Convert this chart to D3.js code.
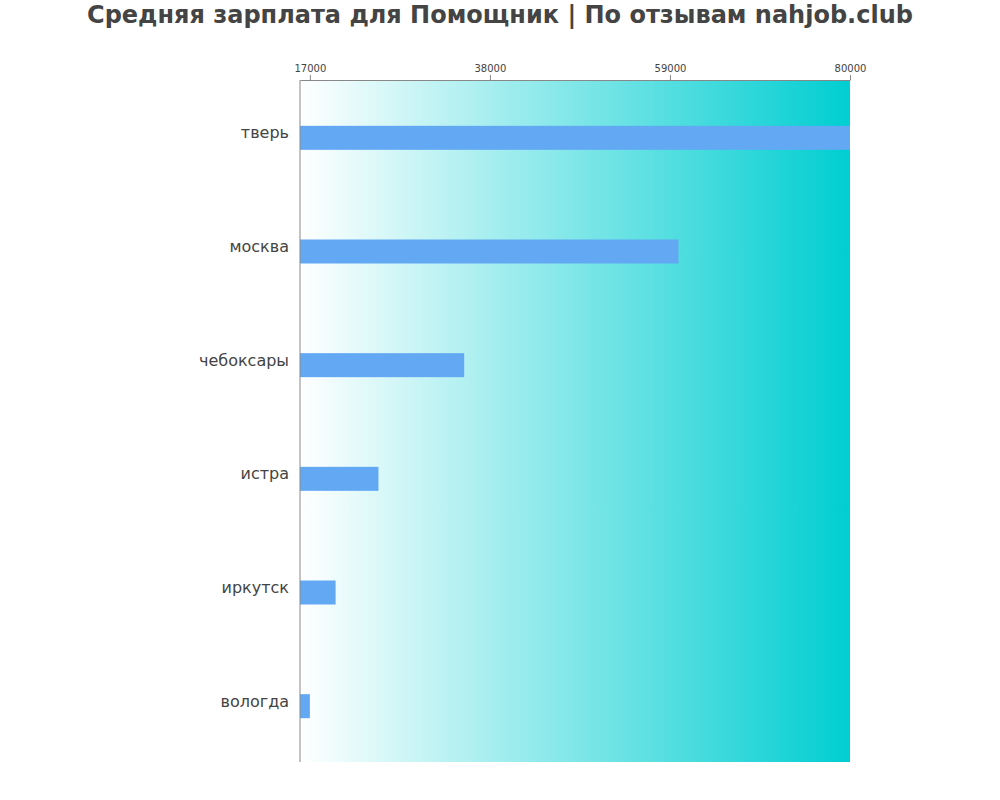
<!DOCTYPE html>
<html>
<head>
<meta charset="utf-8">
<script src="https://cdn.jsdelivr.net/npm/d3@7"></script>
<style>
  body { margin: 0; background: #fff; }
  text { font-family: "DejaVu Sans", sans-serif; }
</style>
</head>
<body>
<div id="chart"></div>
<script>
const cities = ['тверь', 'москва', 'чебоксары', 'истра', 'иркутск', 'вологда'];
const salaries = [80000, 60000, 35000, 25000, 20000, 17000];
const tickValues = [17000, 38000, 59000, 80000];

const svgWidth = 1000;
const svgHeight = 800;
const margin = { top: 80, right: 150, bottom: 38, left: 300 };
const chartWidth = svgWidth - margin.left - margin.right;
const chartHeight = svgHeight - margin.top - margin.bottom;

const svg = d3.select('#chart').append('svg').attr('width', svgWidth).attr('height', svgHeight);

// background gradient
const grad = svg.append('defs').append('linearGradient')
  .attr('id', 'bg').attr('x1', '0%').attr('x2', '100%').attr('y1', '0%').attr('y2', '0%');
grad.append('stop').attr('offset', '0%').attr('stop-color', '#ffffff');
grad.append('stop').attr('offset', '100%').attr('stop-color', '#00ced1');

const g = svg.append('g').attr('transform', `translate(${margin.left},${margin.top})`);

g.append('rect')
  .attr('width', chartWidth)
  .attr('height', chartHeight)
  .attr('fill', 'url(#bg)');

const xScale = d3.scaleLinear().domain([15850, 80000]).range([0, chartWidth]);
const yScale = d3.scaleBand().domain(cities).range([0, chartHeight]);

const data = cities.map((c, i) => ({ city: c, value: salaries[i] }));

g.selectAll('rect.bar')
  .data(data)
  .enter()
  .append('rect')
  .attr('class', 'bar')
  .attr('x', 0)
  .attr('y', d => yScale(d.city) + yScale.bandwidth() / 2 - 11)
  .attr('width', d => xScale(d.value))
  .attr('height', 24)
  .attr('fill', '#63a8f3');

// top axis
const xAxis = g.append('g')
  .call(d3.axisTop(xScale).tickValues(tickValues).tickFormat(d3.format('d')).tickSize(5).tickSizeOuter(0));
xAxis.select('.domain').attr('stroke', '#888');
xAxis.selectAll('.tick line').attr('stroke', '#888');
xAxis.selectAll('.tick text').attr('fill', '#444').style('font-size', '10px');

// left axis line
g.append('line')
  .attr('x1', 0).attr('x2', 0)
  .attr('y1', 0).attr('y2', chartHeight)
  .attr('stroke', '#888');

// city labels
g.selectAll('text.city')
  .data(data)
  .enter()
  .append('text')
  .attr('class', 'city')
  .attr('x', -11)
  .attr('y', d => yScale(d.city) + yScale.bandwidth() / 2)
  .attr('dy', '0.1em')
  .attr('text-anchor', 'end')
  .style('font-size', '16px')
  .attr('fill', '#444')
  .text(d => d.city);

// title
svg.append('text')
  .attr('x', svgWidth / 2)
  .attr('y', 23)
  .attr('text-anchor', 'middle')
  .style('font-size', '24px')
  .style('font-weight', 'bold')
  .attr('fill', '#444')
  .text('Средняя зарплата для Помощник | По отзывам nahjob.club');
</script>
</body>
</html>
